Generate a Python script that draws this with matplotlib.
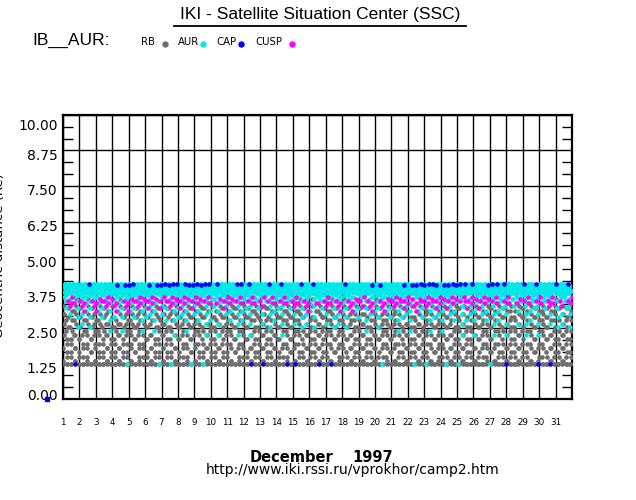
import numpy as np
import matplotlib.pyplot as plt
from matplotlib.lines import Line2D
from matplotlib.transforms import ScaledTranslation

# axis data
days = list(range(1, 32))
y_ticks = [0.00, 1.25, 2.50, 3.75, 5.00, 6.25, 7.50, 8.75, 10.00]

# one Interball-2 orbit, distance (Re) every 5 deg of mean anomaly
orbit_period_h = 5.84
sample_min = 15.0
orbit_r_up = [1.22, 1.22, 1.22, 1.35, 1.49, 1.64, 1.79, 1.95, 2.10, 2.25, 2.39, 2.52,
              2.65, 2.77, 2.89, 3.00, 3.10, 3.19, 3.29, 3.37, 3.45, 3.53, 3.60, 3.66,
              3.72, 3.77, 3.82, 3.86, 3.90, 3.94, 3.97, 3.99, 4.02, 4.03, 4.04, 4.05]
orbit_r_down = [4.05, 4.05, 4.04, 4.03, 4.02, 3.99, 3.97, 3.94, 3.90, 3.86, 3.82, 3.77,
                3.72, 3.66, 3.60, 3.53, 3.45, 3.37, 3.29, 3.19, 3.10, 3.00, 2.89, 2.77,
                2.65, 2.52, 2.39, 2.25, 2.10, 1.95, 1.79, 1.64, 1.49, 1.35, 1.22, 1.22]

# region along the orbit: R=RB, A=AUR, C=CAP, U=CUSP
region_up = ["R" * 16 + "UURUU" + "A" * 11 + "CAAA",
             "R" * 20 + "UUU" + "A" * 13,
             "C" + "R" * 18 + "UUUU" + "A" * 10 + "CAA",
             "R" * 19 + "UURU" + "A" * 12 + "C"]
region_down = ["A" * 22 + "R" * 14,
               "AC" + "A" * 14 + "UUU" + "A" * 6 + "R" * 11,
               "A" * 17 + "UU" + "R" * 15 + "AR",
               "C" + "A" * 27 + "R" * 8]
variant_order = [0, 1, 2, 3, 1, 0, 3, 2]

categories = ["RB", "AUR", "CAP", "CUSP"]
cat_codes = ["R", "A", "C", "U"]
cat_colors = ["#6e6e6e", "#00e8e8", "#0000ff", "#ff00ff"]

orbit_r = np.array(orbit_r_up + orbit_r_down)
regions = [u + d for u, d in zip(region_up, region_down)]
n_bins = len(orbit_r)
period_d = orbit_period_h / 24
dt_d = sample_min / 1440
t = np.arange(1, 32, dt_d)
orbit = ((t - 1) // period_d).astype(int)
phase = np.round(((t - 1) % period_d) / period_d * n_bins).astype(int) % n_bins
r = orbit_r[phase]
cat = np.array([regions[variant_order[o % len(variant_order)]][p] for o, p in zip(orbit, phase)])

W, H = 636, 500
fig = plt.figure(figsize=(W / 100, H / 100), dpi=100)
ax = fig.add_axes([63 / W, 1 - 399 / H, (572 - 63) / W, (399 - 115) / H])

for code, col in zip(cat_codes, cat_colors):
    m = cat == code
    ax.scatter(t[m], r[m], s=11, color=col, marker="o", linewidths=0, zorder=3)

ax.set_xlim(1, 32)
ax.set_ylim(0, 10)
ax.set_xticks(days + [32])
ax.set_xticklabels([str(d) for d in days] + [""], fontsize=6.3)
ax.set_yticks(y_ticks)
ax.set_yticklabels(["%.2f" % v for v in y_ticks], fontsize=10)
ax.set_yticks(np.arange(0, 10.01, 1.25 / 3), minor=True)
ax.tick_params(axis="x", which="major", length=0, pad=14)
ax.tick_params(axis="y", which="major", length=0, pad=4)
ax.tick_params(axis="y", which="minor", direction="in", length=7, width=1,
               left=True, right=True)
ax.grid(True, which="major", color="black", linewidth=1)
ax.set_axisbelow(True)
for s in ax.spines.values():
    s.set_linewidth(1.6)

# IDL-style label placement just below the grid lines
offsets = [5, -4, -4, -4, -4.5, -4, -3.5, -3.5, -9]
for lab, dy in zip(ax.get_yticklabels(), offsets):
    lab.set_transform(lab.get_transform() + ScaledTranslation(0, dy / 100, fig.dpi_scale_trans))

fig.text(0.0, 1 - 256 / H, "Geocentric distance (Re)", rotation=90, fontsize=9.5,
         ha="center", va="center")

# header
fig.text(320 / W, 1 - 14 / H, "IKI - Satellite Situation Center (SSC)", fontsize=12.5,
         family="Liberation Sans", ha="center", va="center")
fig.add_artist(Line2D([174 / W, 466 / W], [1 - 26 / H, 1 - 26 / H], color="black",
                      linewidth=1.3, transform=fig.transFigure))
fig.text(32 / W, 1 - 40 / H, "IB__AUR:", fontsize=12.5, family="Liberation Sans",
         ha="left", va="center")

leg_x = [141, 178, 216, 255]
dot_x = [165, 203, 241, 292]
for name, col, lx, dx in zip(categories, cat_colors, leg_x, dot_x):
    fig.text(lx / W, 1 - 42 / H, name, fontsize=7.3, ha="left", va="center")
    fig.add_artist(Line2D([dx / W], [1 - 44 / H], marker="o", markersize=3.6,
                          color=col, linestyle="none", transform=fig.transFigure))

fig.add_artist(Line2D([47 / W], [1 - 399 / H], marker="s", markersize=2.2,
                      color="#0000ff", linestyle="none", transform=fig.transFigure))

# footer
fig.text(250 / W, 1 - 457 / H, "December", fontsize=10.5, fontweight="bold",
         ha="left", va="center")
fig.text(352 / W, 1 - 457 / H, "1997", fontsize=10.5, fontweight="bold",
         ha="left", va="center")
fig.text(353 / W, 1 - 470 / H, "http://www.iki.rssi.ru/vprokhor/camp2.htm",
         fontsize=10, ha="center", va="center")

fig.savefig("out.png", dpi=100)
